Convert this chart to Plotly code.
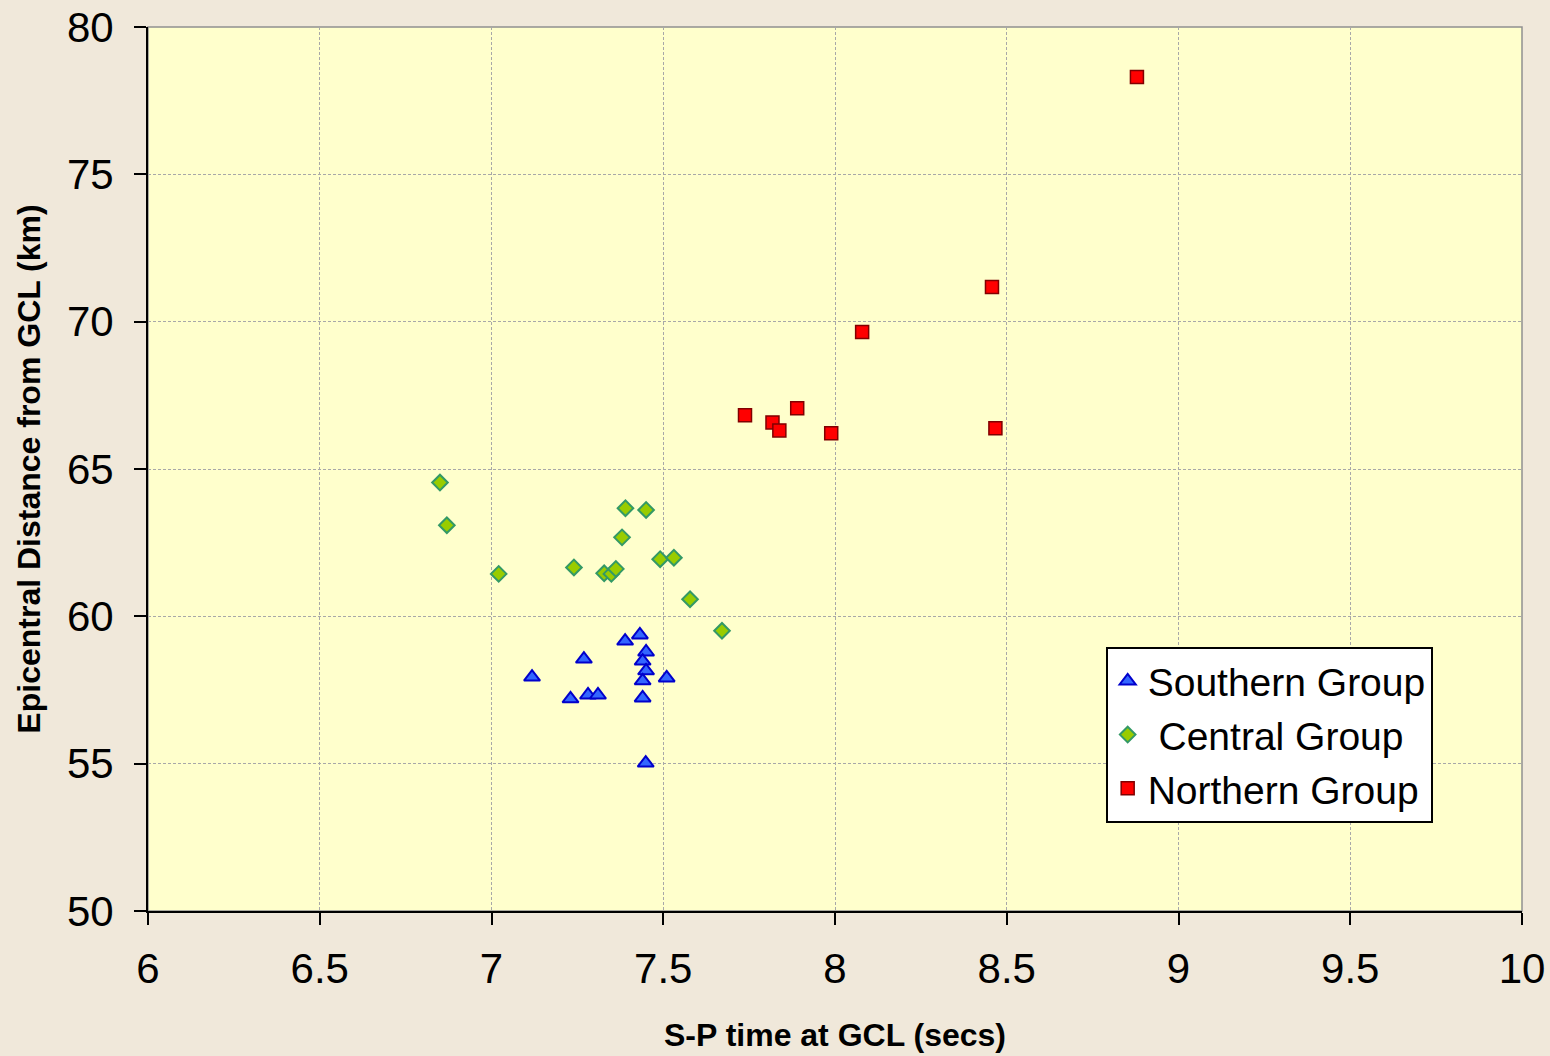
import plotly.graph_objects as go

# Southern Group
south_x = [7.118, 7.269, 7.230, 7.281, 7.310, 7.389, 7.432, 7.450, 7.440, 7.450, 7.440, 7.510, 7.440, 7.449]
south_y = [57.94, 58.55, 57.20, 57.33, 57.33, 59.16, 59.37, 58.79, 58.48, 58.15, 57.81, 57.91, 57.23, 55.02]

# Central Group
central_x = [6.850, 6.870, 7.021, 7.240, 7.328, 7.349, 7.362, 7.390, 7.450, 7.380, 7.491, 7.531, 7.578, 7.671]
central_y = [64.54, 63.09, 61.44, 61.66, 61.46, 61.44, 61.61, 63.67, 63.61, 62.68, 61.94, 61.99, 60.58, 59.51]

# Northern Group
north_x = [7.738, 7.818, 7.838, 7.890, 7.989, 8.467, 8.079, 8.457, 8.879]
north_y = [66.82, 66.58, 66.31, 67.06, 66.21, 66.38, 69.65, 71.18, 78.30]

x_ticks = [6, 6.5, 7, 7.5, 8, 8.5, 9, 9.5, 10]
y_ticks = [50, 55, 60, 65, 70, 75, 80]

fig = go.Figure()
fig.add_trace(go.Scatter(
    x=south_x, y=south_y, mode="markers", name="Southern Group",
    marker=dict(symbol="triangle-up", size=14, color="#3366FF",
                line=dict(color="#0000CC", width=2))))
fig.add_trace(go.Scatter(
    x=central_x, y=central_y, mode="markers", name="\u00a0Central Group",
    marker=dict(symbol="diamond", size=12, color="#99CC00",
                line=dict(color="#339966", width=2))))
fig.add_trace(go.Scatter(
    x=north_x, y=north_y, mode="markers", name="Northern Group",
    marker=dict(symbol="square", size=13, color="#FF0000",
                line=dict(color="#800000", width=1.5))))

font_family = "Liberation Sans, Arial, sans-serif"

fig.update_layout(
    width=1550, height=1056,
    margin=dict(l=148, r=28, t=27, b=145),
    paper_bgcolor="#F0E8DA",
    plot_bgcolor="#FFFFCC",
    font=dict(family=font_family, color="black"),
    showlegend=True,
    legend=dict(
        x=0.697, y=0.2986, xanchor="left", yanchor="top",
        bgcolor="white", bordercolor="black", borderwidth=2,
        font=dict(size=39, family=font_family, color="black"),
    ),
    shapes=[dict(type="rect", xref="paper", yref="paper", x0=0, y0=0, x1=1, y1=1,
                 line=dict(color="#909090", width=1.5), layer="below")],
)

fig.update_xaxes(
    range=[6, 10], tickvals=x_ticks, ticktext=[f"{v:g}" for v in x_ticks],
    automargin=False,
    showline=True, linecolor="black", linewidth=2,
    ticks="outside", ticklen=12, tickwidth=2, tickcolor="black",
    ticklabelstandoff=8,
    tickfont=dict(size=42, family=font_family),
    showgrid=True, gridcolor="#A8A8A8", gridwidth=1, griddash="3px,2px",
    zeroline=False,
    title=dict(text="<b>S-P time at GCL (secs)</b>", font=dict(size=32, family=font_family), standoff=32),
)
fig.update_yaxes(
    range=[50, 80], tickvals=y_ticks, ticktext=[str(v) for v in y_ticks],
    automargin=False,
    showline=True, linecolor="black", linewidth=2,
    ticks="outside", ticklen=12, tickwidth=2, tickcolor="black",
    ticklabelstandoff=12,
    tickfont=dict(size=42, family=font_family),
    showgrid=True, gridcolor="#A8A8A8", gridwidth=1, griddash="3px,2px",
    zeroline=False,
    title=dict(text="<b>Epicentral Distance from GCL (km)</b>", font=dict(size=32, family=font_family), standoff=17),
)

fig.write_html(
    "out.html",
    config={"displayModeBar": False},
    post_script="document.body.style.margin='0px';document.body.style.overflow='hidden';",
)
